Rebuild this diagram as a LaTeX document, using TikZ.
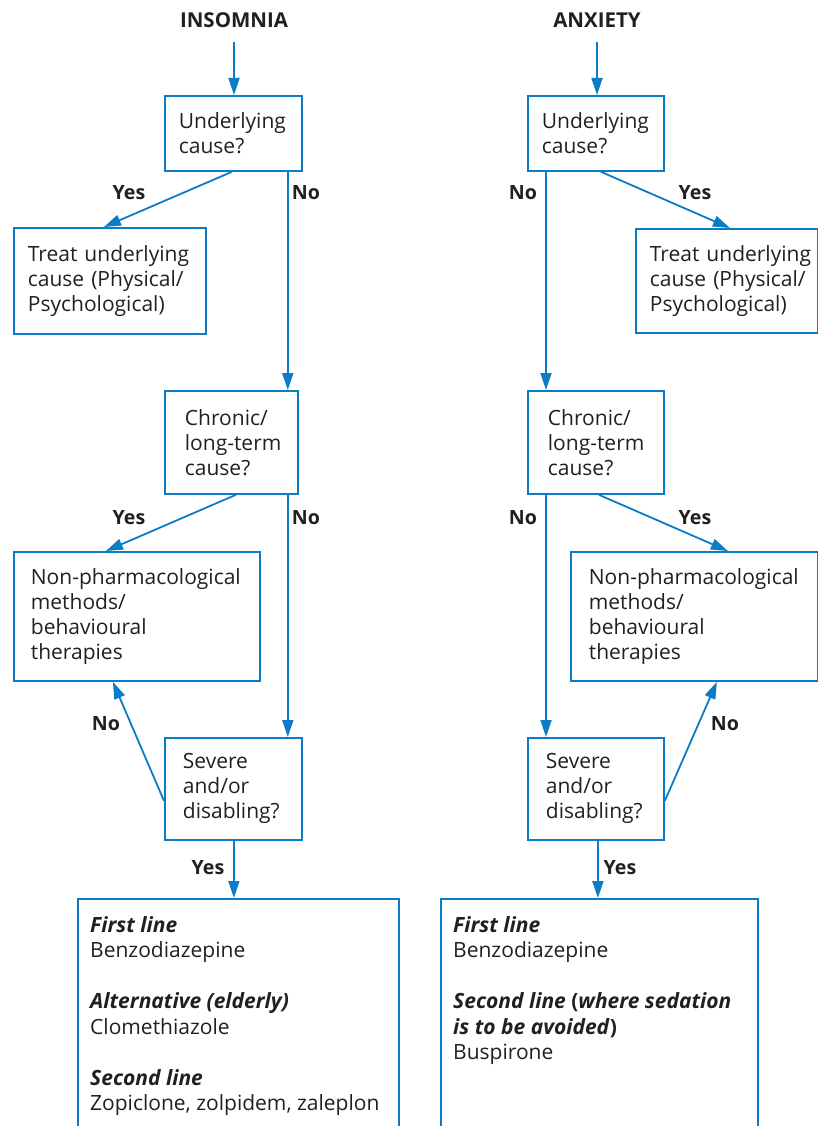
\documentclass[tikz,border=0pt]{standalone}
\usepackage{fontspec}
\setmainfont{Open Sans}
\usetikzlibrary{arrows.meta,positioning,calc}
\definecolor{fblue}{HTML}{0A7DC6}
\definecolor{ftext}{HTML}{231F20}
\hbadness=10000 \hfuzz=100pt
\tikzset{
  box/.style={draw=fblue, line width=1.8pt, anchor=north west, align=left, inner ysep=0pt, text=ftext, font=\fontsize{21}{25}\selectfont},
  bare/.style={draw=fblue, line width=1.8pt, anchor=north west, inner sep=0pt},
  bodytext/.style={anchor=north west, align=left, inner sep=0pt, text=ftext, font=\fontsize{21}{25.5}\selectfont},
  arr/.style={draw=fblue, line width=1.8pt, -{Triangle[length=17pt,width=11pt]}},
  lab/.style={text=ftext, font=\fontsize{19.6}{22}\selectfont\bfseries, inner sep=0pt},
  ttl/.style={text=ftext, font=\fontsize{20.5}{22}\selectfont\bfseries, inner sep=0pt}
}
\begin{document}
\begin{tikzpicture}[x=1pt,y=-1pt]
\useasboundingbox (0,0) rectangle (818,1126);
\clip (0,0) rectangle (818,1126);
% ---------- left: insomnia ----------
\node[ttl] (tI) at (234,20) {INSOMNIA};
\node[box, minimum width=137pt, minimum height=75pt, text width=109pt, inner xsep=14pt] (b1) at (164,95) {\mbox{Underlying}\\\mbox{cause?}};
\node[box, minimum width=192pt, minimum height=106pt, text width=164pt, inner xsep=14pt] (b2) at (13,227) {\mbox{Treat underlying}\\\mbox{cause (Physical/}\\\mbox{Psychological)}};
\node[box, minimum width=133pt, minimum height=103pt, text width=93pt, inner xsep=20pt] (b3) at (164,390) {\mbox{Chronic/}\\\mbox{long-term}\\\mbox{cause?}};
\node[box, minimum width=246pt, minimum height=129pt, text width=212pt, inner xsep=17pt] (b4) at (13,551) {\mbox{Non-pharmacological}\\\mbox{methods/}\\\mbox{behavioural}\\\mbox{therapies}};
\node[box, minimum width=137pt, minimum height=102pt, text width=101pt, inner xsep=18pt] (b5) at (164,737) {\mbox{Severe}\\\mbox{and/or}\\\mbox{disabling?}};
\node[bare, minimum width=321pt, minimum height=260pt] (b6) at (77,898) {};
\node[bodytext] (t6) at (90,916) {\textbf{\itshape First line}\\Benzodiazepine\\[25.5pt]\textbf{\itshape Alternative (elderly)}\\Clomethiazole\\[25.5pt]\textbf{\itshape Second line}\\Zopiclone, zolpidem, zaleplon};

\coordinate (sI) at (234,42);
\draw[arr] (sI) -- (sI |- b1.north);
\draw[arr] ([xshift=-1.5pt]b1.south) -- ([xshift=-6pt]b2.north);
\draw[arr] ([xshift=-15pt]b1.south east) -- ([xshift=-11pt]b3.north east);
\draw[arr] ([xshift=4.5pt]b3.south) -- ([xshift=-31pt]b4.north);
\draw[arr] ([xshift=-11pt]b3.south east) -- ([xshift=-15pt]b5.north east);
\draw[arr] ([yshift=-12pt]b5.west) -- ([xshift=-24pt]b4.south);
\draw[arr] ([xshift=0.5pt]b5.south) -- ([xshift=0.5pt]b5.south |- b6.north);
\node[lab] (y1) at (129,193) {Yes};
\node[lab] (n1) at (306,193) {No};
\node[lab] (y2) at (129,518) {Yes};
\node[lab] (n2) at (306,518) {No};
\node[lab] (n3) at (106,724) {No};
\node[lab] (y3) at (208,868) {Yes};

% ---------- right: anxiety ----------
\node[ttl] (tA) at (597,20) {ANXIETY};
\node[box, minimum width=136pt, minimum height=75pt, text width=108pt, inner xsep=14pt] (c1) at (527,95) {\mbox{Underlying}\\\mbox{cause?}};
\node[box, minimum width=182pt, minimum height=104pt, text width=154pt, inner xsep=14pt] (c2) at (635,228) {\mbox{Treat underlying}\\\mbox{cause (Physical/}\\\mbox{Psychological)}};
\node[box, minimum width=136pt, minimum height=103pt, text width=96pt, inner xsep=20pt] (c3) at (527,390) {\mbox{Chronic/}\\\mbox{long-term}\\\mbox{cause?}};
\node[box, minimum width=247pt, minimum height=129pt, text width=211pt, inner xsep=18pt] (c4) at (570,551) {\mbox{Non-pharmacological}\\\mbox{methods/}\\\mbox{behavioural}\\\mbox{therapies}};
\node[box, minimum width=136pt, minimum height=102pt, text width=100pt, inner xsep=18pt] (c5) at (527,737) {\mbox{Severe}\\\mbox{and/or}\\\mbox{disabling?}};
\node[bare, minimum width=317pt, minimum height=260pt] (c6) at (440,898) {};
\node[bodytext] (t7) at (453,916) {\textbf{\itshape First line}\\Benzodiazepine\\[25.5pt]\textbf{\itshape Second line} \textbf{(}\textbf{\itshape where sedation}\\\textbf{\itshape is to be avoided}\textbf{)}\\Buspirone};

\coordinate (sA) at (597,42);
\draw[arr] (sA) -- (sA |- c1.north);
\draw[arr] ([xshift=19pt]c1.south west) -- ([xshift=19pt]c3.north west);
\draw[arr] ([xshift=5pt]c1.south) -- ([xshift=3pt]c2.north);
\draw[arr] ([xshift=19pt]c3.south west) -- ([xshift=19pt]c5.north west);
\draw[arr] ([xshift=3pt]c3.south) -- ([xshift=33.5pt]c4.north);
\draw[arr] ([yshift=-12pt]c5.east) -- ([xshift=22.5pt]c4.south);
\draw[arr] ([xshift=2pt]c5.south) -- ([xshift=2pt]c5.south |- c6.north);
\node[lab] (n4) at (523,193) {No};
\node[lab] (y4) at (695,193) {Yes};
\node[lab] (n5) at (523,518) {No};
\node[lab] (y5) at (695,518) {Yes};
\node[lab] (n6) at (725,724) {No};
\node[lab] (y6) at (620,868) {Yes};
\end{tikzpicture}
\end{document}
